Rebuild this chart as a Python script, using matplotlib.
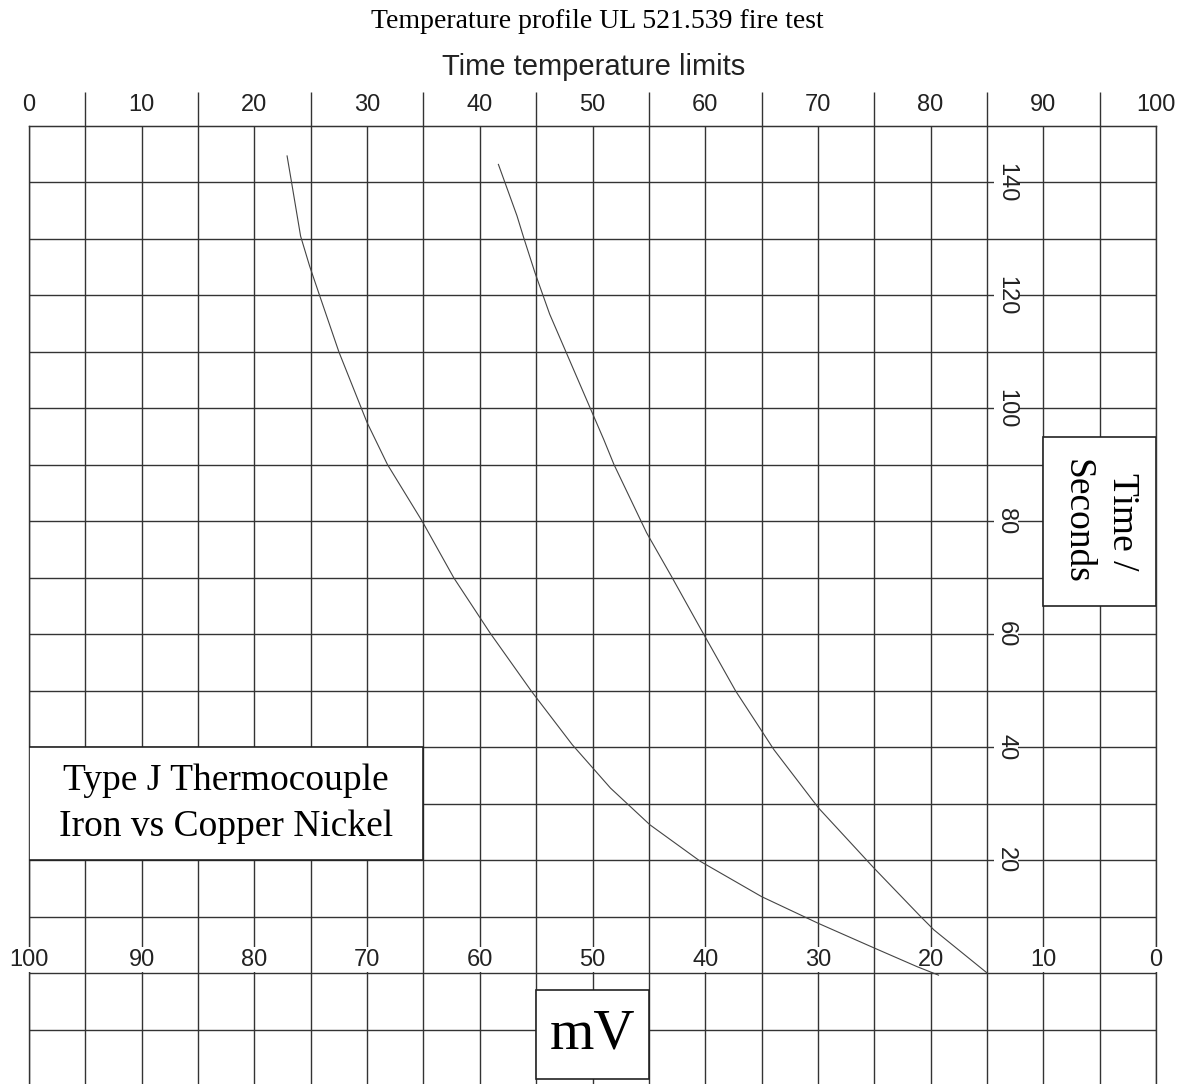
import matplotlib
matplotlib.use("Agg")
import matplotlib.pyplot as plt
from matplotlib.patches import Rectangle

plt.rcParams['font.family'] = ['Liberation Sans', 'DejaVu Sans']

# ---- text ----
title = "Temperature profile UL 521.539 fire test"
top_axis_label = "Time temperature limits"
box_label = "Type J Thermocouple\nIron vs Copper Nickel"
time_label = "Time /\nSeconds"
mv_label = "mV"

# ---- axes ticks ----
top_tick_values = [0, 10, 20, 30, 40, 50, 60, 70, 80, 90, 100]
top_minor_values = [5, 15, 25, 35, 45, 55, 65, 75, 85, 95]
bottom_tick_mv = [100, 90, 80, 70, 60, 50, 40, 30, 20, 10, 0]
time_tick_values = [20, 40, 60, 80, 100, 120, 140]
grid_mv = [0, 5, 10, 15, 20, 25, 30, 35, 40, 45, 50, 55, 60, 65, 70, 75, 80, 85, 90, 95, 100]
grid_time = [-10, 0, 10, 20, 30, 40, 50, 60, 70, 80, 90, 100, 110, 120, 130, 140]

# ---- curves (mV vs time in seconds) ----
curve1_mv = [77.1, 76.7, 75.9, 75.1, 74.3, 72.5, 70.0, 68.2, 65.1, 62.3, 59.1,
             55.4, 51.8, 48.4, 44.9, 40.4, 35.0, 30.0, 25.0, 21.2, 19.3]
curve1_time = [144.7, 140.0, 130.5, 125.2, 120.5, 110.0, 97.5, 90.1, 80.0, 70.0, 60.3,
               49.9, 40.5, 32.8, 26.3, 19.8, 13.6, 8.9, 4.5, 1.2, -0.3]
curve2_mv = [58.35, 56.7, 56.1, 55.1, 53.8, 49.0, 48.1, 45.2, 43.0, 40.6, 37.3,
             33.9, 29.95, 25.0, 20.9, 19.7, 15.0]
curve2_time = [143.2, 134.1, 130.2, 124.0, 116.7, 94.5, 90.1, 78.0, 70.3, 61.7, 50.0,
               39.6, 29.3, 18.6, 10.1, 7.7, 0.1]

GRID = '#333333'
SERIF = ['Liberation Serif', 'DejaVu Serif']

fig = plt.figure(figsize=(11.87, 10.84), dpi=100)
ax = fig.add_axes([29 / 1187, 0, 1127 / 1187, 958 / 1084])
ax.set_xlim(100, 0)
ax.set_ylim(-19.57, 150)

ax.set_xticks(grid_mv)
ax.set_yticks(grid_time)
ax.tick_params(length=0, labelbottom=False, labelleft=False)
ax.grid(True, color=GRID, lw=1.0)
ax.xaxis.set_zorder(1)
ax.yaxis.set_zorder(3)

for side in ['left', 'right', 'top']:
    ax.spines[side].set_color(GRID)
    ax.spines[side].set_linewidth(1.0)
ax.spines['left'].set_zorder(1.5)
ax.spines['right'].set_zorder(1.5)
ax.spines['bottom'].set_visible(False)

# top axis (0..100)
secax = ax.secondary_xaxis('top', functions=(lambda v: 100 - v, lambda v: 100 - v))
secax.set_xticks(top_tick_values, labels=[str(v) for v in top_tick_values])
secax.set_xticks(top_minor_values, minor=True)
secax.tick_params(which='major', length=0, pad=7, labelsize=17, labelcolor='#222222')
secax.tick_params(which='minor', length=24.5, width=1.0, color=GRID, direction='out')
secax.spines['top'].set_color(GRID)

# bottom mV labels inside the grid
for v in bottom_tick_mv:
    ax.text(v, 2.4, str(v), ha='center', va='center', fontsize=17, color='#222222',
            bbox=dict(fc='white', ec='none', pad=1.0), zorder=2)

# time labels, rotated
for v in time_tick_values:
    ax.text(13.3, v, str(v), ha='center', va='center', rotation=-90, fontsize=17,
            color='#222222', bbox=dict(fc='white', ec='none', pad=0.8), zorder=4)

# curves
ax.plot(curve1_mv, curve1_time, color='#444444', lw=0.8, zorder=5)
ax.plot(curve2_mv, curve2_time, color='#444444', lw=0.8, zorder=5)

# boxes
ax.add_patch(Rectangle((65, 20), 35, 20, fc='white', ec='#222222', lw=1.2, zorder=6))
ax.text(82.5, 30, box_label, ha='center', va='center', multialignment='center',
        fontsize=27, family=SERIF, linespacing=1.42, zorder=7)

ax.add_patch(Rectangle((0, 65), 10, 30, fc='white', ec='#222222', lw=1.2, zorder=6))
ax.text(5, 80, time_label, ha='center', va='center', multialignment='center',
        rotation=-90, fontsize=27, family=SERIF, linespacing=1.4, zorder=7)

ax.add_patch(Rectangle((45, -18.6), 10, 15.6, fc='white', ec='#222222', lw=1.2, zorder=6))
ax.text(50, -10.8, mv_label, ha='center', va='center', fontsize=41, family=SERIF, zorder=7)

# titles
fig.text(597 / 1187, 1 - 22 / 1084, title, ha='center', va='center', fontsize=20, family=SERIF)
fig.text(594 / 1187, 1 - 67 / 1084, top_axis_label, ha='center', va='center', fontsize=21,
         color='#222222')

fig.savefig('out.png', dpi=100)
